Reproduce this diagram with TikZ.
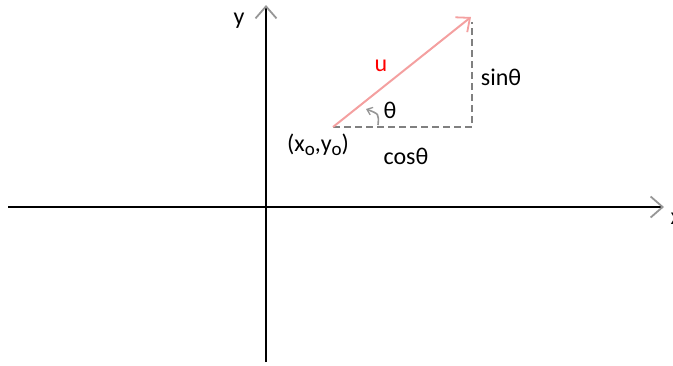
\documentclass[tikz,border=0pt]{standalone}
\usepackage{fontspec}
\setmainfont{Carlito}
\usetikzlibrary{arrows.meta}
\definecolor{vecred}{RGB}{244,160,160}
\definecolor{tipgray}{RGB}{150,150,150}
\newcommand{\lowo}{\raisebox{-0.3ex}{\fontsize{19}{20}\selectfont o}}
\tikzset{
  axis/.style={line width=2.4pt,black},
  axtip/.style={-{Straight Barb[length=12pt,width=21pt,line width=1.8pt,color=tipgray]}},
  guide/.style={gray,line width=1.8pt,dash pattern=on 7pt off 4pt},
  lbl/.style={font=\fontsize{24}{28}\selectfont}
}
\begin{document}
\begin{tikzpicture}[x=1pt,y=-1pt]
  \useasboundingbox (0,0) rectangle (673,365);
  % axes
  \coordinate (xl) at (8,207);
  \coordinate (xr) at (664,207);
  \coordinate (yb) at (266,362);
  \coordinate (yt) at (266,5);
  \draw[axis,axtip] (xl) -- (xr);
  \draw[axis,axtip] (yb) -- (yt);
  \node[lbl] (ylab) at (239,21) {y};
  \node[lbl,anchor=west] (xlab) at (667,219) {x};
  % vector and its parts
  \coordinate (p0) at (333,127);
  \coordinate (p1) at (471,17);
  \coordinate (pc) at (472,127);
  \draw[guide] (p0) -- (pc) -- (472,22);
  \draw[vecred,line width=2pt,-{Straight Barb[length=11pt,width=19pt,line width=1.8pt]}] (p0) -- (p1);
  \draw[tipgray,line width=1.6pt,-{Straight Barb[length=5pt,width=8pt,line width=1.3pt]}]
    (378,125) .. controls (379,114) .. (366,109);
  % labels
  \node[lbl,text=red] (ulab) at (381,66) {u};
  \node[lbl] (tlab) at (390,110) {θ};
  \node[lbl] (slab) at (501,77) {sinθ};
  \node[lbl] (olab) at (318,145) {(x\lowo,y\lowo)};
  \node[lbl] (clab) at (406,156) {cosθ};
\end{tikzpicture}
\end{document}
